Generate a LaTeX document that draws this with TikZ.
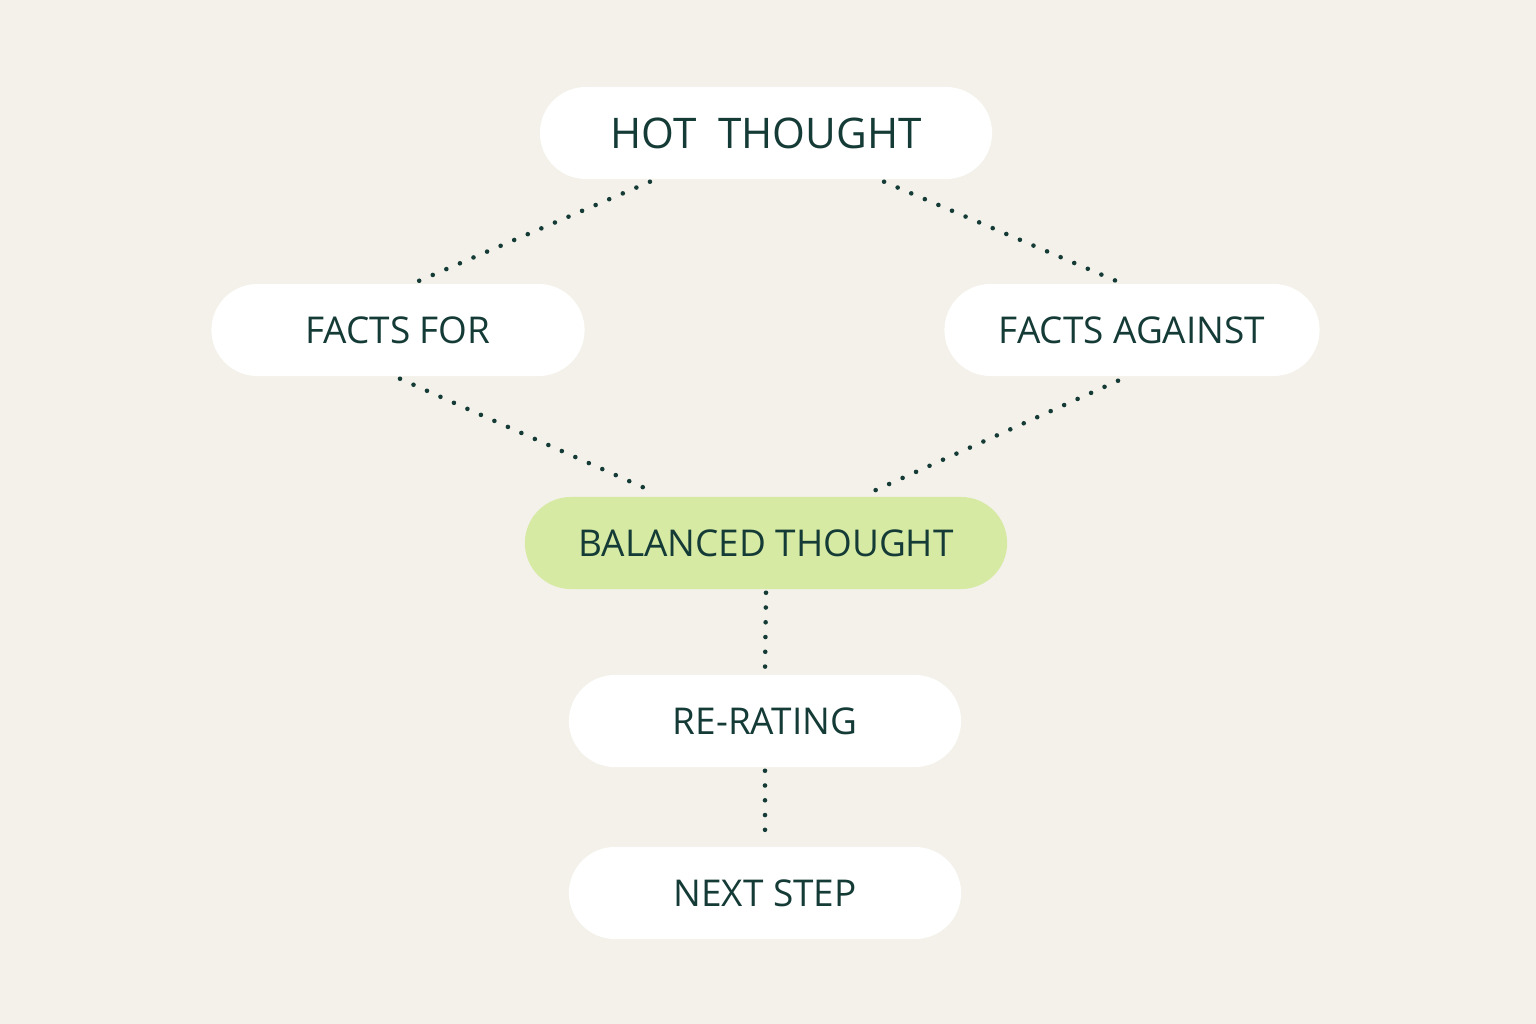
\documentclass[tikz,border=0pt]{standalone}
\usepackage{fontspec}
\setmainfont{Open Sans}
\usetikzlibrary{positioning,calc}
\definecolor{paper}{HTML}{F3F1E9}
\definecolor{ink}{HTML}{153B37}
\definecolor{leaf}{HTML}{D6EAA4}
\tikzset{
  pill/.style={draw=none, fill=white, shape=rectangle, rounded corners=0.46cm, minimum height=0.92cm, text=ink, font=\fontsize{10.5}{12}\selectfont},
  link/.style={ink, line width=1.3pt, dash pattern=on 0pt off 4.2pt, line cap=round}
}
\begin{document}
\begin{tikzpicture}[x=0.01cm, y=-0.01cm]
\path[fill=paper] (0,0) rectangle (1536,1024);
\useasboundingbox (0,0) rectangle (1536,1024);

\path (766, 133) node[pill, minimum width=4.52cm, font=\fontsize{12}{14}\selectfont] (hot) {HOT\ \ THOUGHT};
\path (398, 330) node[pill, minimum width=3.73cm] (for) {FACTS FOR};
\path (1132, 330) node[pill, minimum width=3.75cm] (against) {FACTS AGAINST};
\path (766, 543) node[pill, fill=leaf, minimum width=4.82cm] (balanced) {BALANCED THOUGHT};
\path (765, 721) node[pill, minimum width=3.92cm] (rerating) {RE-RATING};
\path (765, 893) node[pill, minimum width=3.92cm] (next) {NEXT STEP};

\draw[link] ([xshift=-1.16cm, yshift=-0.02cm]hot.south) -- ([xshift=0.2cm, yshift=0.02cm]for.north);
\draw[link] ([xshift=1.18cm, yshift=-0.02cm]hot.south) -- ([xshift=-0.15cm, yshift=0.02cm]against.north);
\draw[link] ([xshift=0.02cm, yshift=-0.02cm]for.south) -- ([xshift=-1.14cm, yshift=0.05cm]balanced.north);
\draw[link] ([xshift=-0.14cm, yshift=-0.04cm]against.south) -- ([xshift=1.07cm, yshift=0.05cm]balanced.north);
\draw[link] ([yshift=-0.03cm]balanced.south) -- ([yshift=0.03cm]rerating.north);
\draw[link] ([yshift=-0.03cm]rerating.south) -- ([yshift=0.03cm]next.north);
\end{tikzpicture}
\end{document}
